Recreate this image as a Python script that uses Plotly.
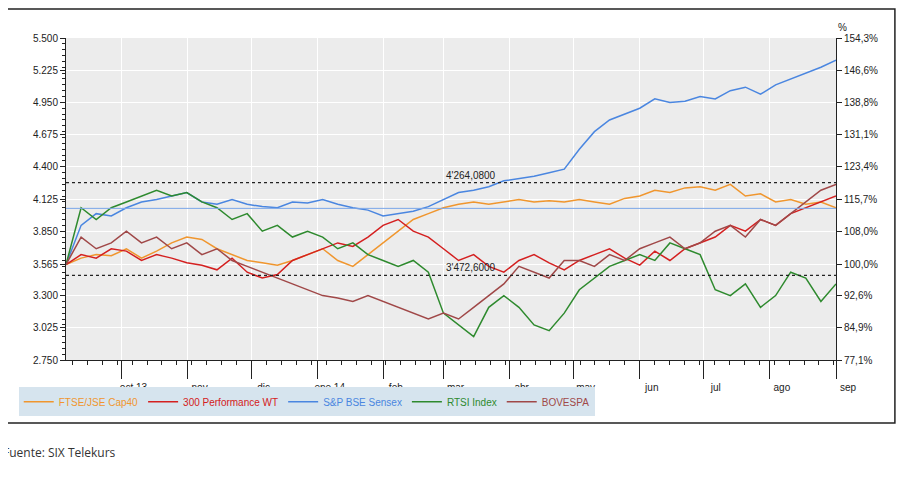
import pandas as pd
import plotly.graph_objects as go

# weekly closes, Sep 2013 - Sep 2014 (left axis units)
ftse = [3565,3620,3650,3640, 3700,3620,3680,3750, 3800,3780,3700,3650, 3600,3580,3560,3600,
        3650,3700,3600,3550,3650, 3750,3850,3950,4000, 4050,4080,4100,4080, 4100,4120,4100,4110,4100,
        4120,4100,4080,4130, 4150,4200,4180,4220, 4230,4200,4250,4150,4170,4100,4120,4080,4100,4050]
perf300 = [3565,3650,3620,3700, 3680,3600,3650,3620, 3580,3560,3520,3620, 3500,3450,3480,3600,
           3650,3700,3750,3720,3800, 3900,3950,3850,3800, 3700,3600,3650,3550, 3500,3600,3650,3580,3520,
           3600,3650,3700,3620, 3560,3680,3600,3700, 3750,3800,3900,3850,3950,3900,4000,4050,4100,4150]
sensex = [3565,3900,4000,3980, 4050,4100,4120,4150, 4180,4100,4080,4120, 4080,4060,4050,4100,
          4090,4120,4080,4050,4030, 3980,4000,4020,4060, 4120,4180,4200,4230, 4280,4300,4320,4350,
          4380,4550,4700,4800,4850, 4900,4980,4950,4960, 5000,4980,5050,5080, 5020,5100,5150,5200,5250,5310]
rtsi = [3565,4050,3950,4050, 4100,4150,4200,4150, 4180,4100,4050,3950, 4000,3850,3900,3800,
        3850,3800,3700,3750,3650, 3600,3550,3600,3500, 3150,3050,2950,3200, 3300,3200,3050,3000,3150,
        3350,3450,3550,3600, 3650,3600,3750,3700, 3650,3350,3300,3400,3200,3300,3500,3450,3250,3400]
bovespa = [3565,3800,3700,3750, 3850,3750,3800,3700, 3750,3650,3700,3600, 3550,3500,3450,3400,
           3350,3300,3280,3250,3300, 3250,3200,3150,3100, 3150,3100,3200,3300, 3400,3550,3500,3450,3600,
           3600,3550,3650,3600, 3700,3750,3800,3700, 3750,3850,3900,3800,3950,3900,4000,4100,4200,4250]

names = ["FTSE/JSE Cap40", "300 Performance WT", "S&P BSE Sensex", "RTSI Index", "BOVESPA"]
colors = ["#f0962e", "#d42020", "#4a86e0", "#2e8a2e", "#a04848"]
series = [ftse, perf300, sensex, rtsi, bovespa]

upper_level = 4264.08
lower_level = 3472.6
blue_level = 4045

left_ticks = [2750, 3025, 3300, 3565, 3850, 4125, 4400, 4675, 4950, 5225, 5500]
left_text = ["2.750", "3.025", "3.300", "3.565", "3.850", "4.125", "4.400", "4.675", "4.950", "5.225", "5.500"]
right_text = ["77,1%", "84,9%", "92,6%", "100,0%", "108,0%", "115,7%", "123,4%", "131,1%", "138,8%", "146,6%", "154,3%"]
month_starts = pd.date_range("2013-10-01", "2014-09-01", freq="MS")
month_text = ["oct 13", "nov", "dic", "ene 14", "feb", "mar", "abr", "may", "jun", "jul", "ago", "sep"]

dates = pd.date_range("2013-09-05", "2014-09-01", periods=len(ftse))
x0, x1 = pd.Timestamp("2013-09-05"), pd.Timestamp("2014-09-01")

fig = go.Figure()
for name, col, s in zip(names, colors, series):
    fig.add_trace(go.Scatter(
        x=dates, y=s, mode="lines", line=dict(color=col, width=1.5),
        name=f"<span style='color:{col}'>{name}</span>"))

# invisible trace for the % axis
fig.add_trace(go.Scatter(x=[x0, x1], y=[77.14, 154.28], yaxis="y2",
                         mode="lines", line=dict(width=0), showlegend=False, hoverinfo="skip"))

for lvl, dash, col, w in [(upper_level, "dot", "#222", 1.2), (lower_level, "dot", "#222", 1.2),
                          (blue_level, "solid", "#7aa6e8", 1)]:
    fig.add_shape(type="line", xref="x", yref="y", x0=x0, x1=x1, y0=lvl, y1=lvl,
                  line=dict(color=col, width=w, dash=dash))
for lvl, txt in [(upper_level, "4'264,0800"), (lower_level, "3'472,6000")]:
    fig.add_annotation(x=pd.Timestamp("2014-03-01"), y=lvl, text=txt, showarrow=False,
                       xanchor="left", yanchor="bottom", font=dict(size=10, color="#222"))

# outer frame
fig.add_shape(type="rect", xref="paper", yref="paper", x0=-0.0765, x1=1.0765, y0=-0.196, y1=1.09,
              line=dict(color="#222", width=1.5), layer="below")
fig.add_annotation(xref="paper", yref="paper", x=-0.085, y=-0.32, text="Fuente: SIX Telekurs",
                   showarrow=False, xanchor="left", font=dict(size=12, color="#333", family="Open Sans"))
fig.add_annotation(xref="paper", yref="paper", x=1.0, y=1.01, text="%", showarrow=False,
                   xanchor="left", yanchor="bottom", font=dict(size=10, color="#222"))

fig.update_layout(
    width=907, height=481,
    margin=dict(l=57, r=79, t=30, b=129),
    paper_bgcolor="white", plot_bgcolor="#ececec",
    font=dict(family="Liberation Sans, Arial", size=10, color="#222"),
    showlegend=True,
    legend=dict(orientation="h", x=-0.06, y=-0.085, xanchor="left", yanchor="top",
                bgcolor="#d6e4ee", font=dict(size=10)),
    xaxis=dict(range=[x0, x1], tickvals=month_starts, ticktext=month_text,
               ticks="outside", ticklen=18, tickcolor="#222", ticklabelshift=12,
               showgrid=True, gridcolor="white", gridwidth=1.2,
               showline=True, linecolor="#222", zeroline=False,
               minor=dict(dtick=7 * 86400000, ticks="outside", ticklen=4, tickcolor="#222", showgrid=False)),
    yaxis=dict(range=[2750, 5500], tickvals=left_ticks, ticktext=left_text,
               ticks="outside", ticklen=5, tickcolor="#222",
               showgrid=True, gridcolor="white", gridwidth=1.2,
               showline=True, linecolor="#222", zeroline=False,
               minor=dict(ticks="outside", ticklen=3, tickcolor="#222", nticks=20)),
    yaxis2=dict(overlaying="y", side="right", range=[77.14, 154.28],
                tickvals=[v / 35.65 for v in left_ticks], ticktext=right_text,
                ticks="outside", ticklen=5, tickcolor="#222",
                showgrid=False, showline=True, linecolor="#222", zeroline=False),
)

fig.write_html("out.html")
